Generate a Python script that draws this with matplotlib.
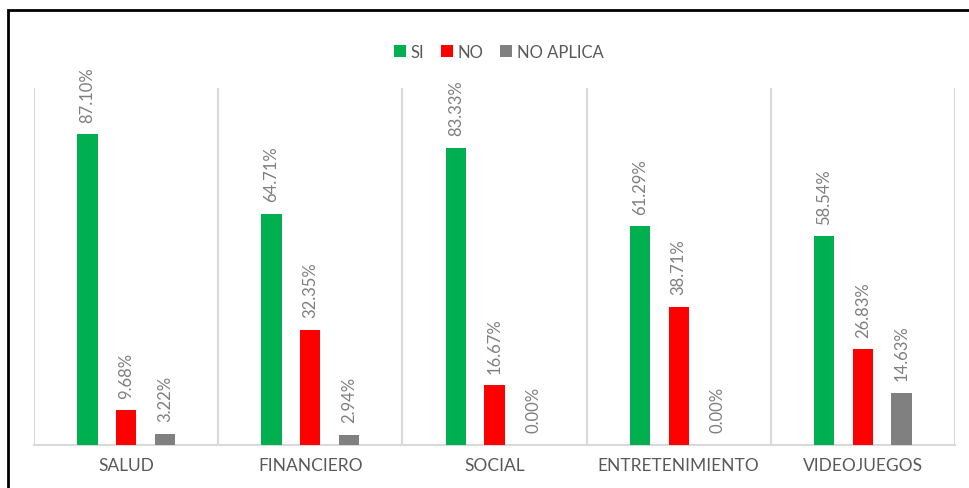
import numpy as np
import matplotlib as mpl
mpl.use('Agg')
import matplotlib.pyplot as plt
from matplotlib.patches import Rectangle

categories = ["SALUD", "FINANCIERO", "SOCIAL", "ENTRETENIMIENTO", "VIDEOJUEGOS"]
si = [87.10, 64.71, 83.33, 61.29, 58.54]
no = [9.68, 32.35, 16.67, 38.71, 26.83]
no_aplica = [3.22, 2.94, 0.00, 0.00, 14.63]
series = [("SI", si, "#00B050"), ("NO", no, "#FF0000"), ("NO APLICA", no_aplica, "#808080")]

plt.rcParams['font.family'] = ['Lato', 'DejaVu Sans']
W, H = 969, 489
fig = plt.figure(figsize=(W / 100, H / 100), dpi=100)
ax = fig.add_axes([34 / W, (H - 446) / H, (955 - 34) / W, (446 - 89) / H])

x = np.arange(len(categories))
width = 0.11
offset = 0.21
for i, (name, vals, col) in enumerate(series):
    pos = x + (i - 1) * offset
    ax.bar(pos, vals, width, color=col, label=name, zorder=3)
    for p, v in zip(pos, vals):
        ax.annotate("%.2f%%" % v, (p, v), xytext=(0, 9), textcoords="offset points",
                    rotation=90, ha="center", va="bottom", color="#7F7F7F", fontsize=12)

ax.set_xlim(-0.5, len(categories) - 0.5)
ax.set_ylim(0, 100)
ax.set_yticks([])
ax.set_xticks(x)
ax.set_xticklabels(categories, color="#595959", fontsize=12.5)
ax.tick_params(axis="x", length=0, pad=9)
for b in np.arange(-0.5, len(categories), 1):
    ax.axvline(b, color="#D9D9D9", lw=1.5, zorder=1)
for s in ["top", "right", "left"]:
    ax.spines[s].set_visible(False)
ax.spines["bottom"].set_color("#D9D9D9")
ax.spines["bottom"].set_linewidth(1.5)

fig.legend(loc="upper center", bbox_to_anchor=(0.515, 1 - 30 / H), ncol=3, frameon=False,
           fontsize=12, handlelength=0.7, handleheight=0.7, handletextpad=0.3,
           columnspacing=1.0, labelcolor="#595959")

fig.patches.append(Rectangle((8 / W, -0.1), 1.2, 1 - 11 / H + 0.1, transform=fig.transFigure,
                             fill=False, edgecolor="black", lw=2))

plt.savefig("out.png", dpi=100)
